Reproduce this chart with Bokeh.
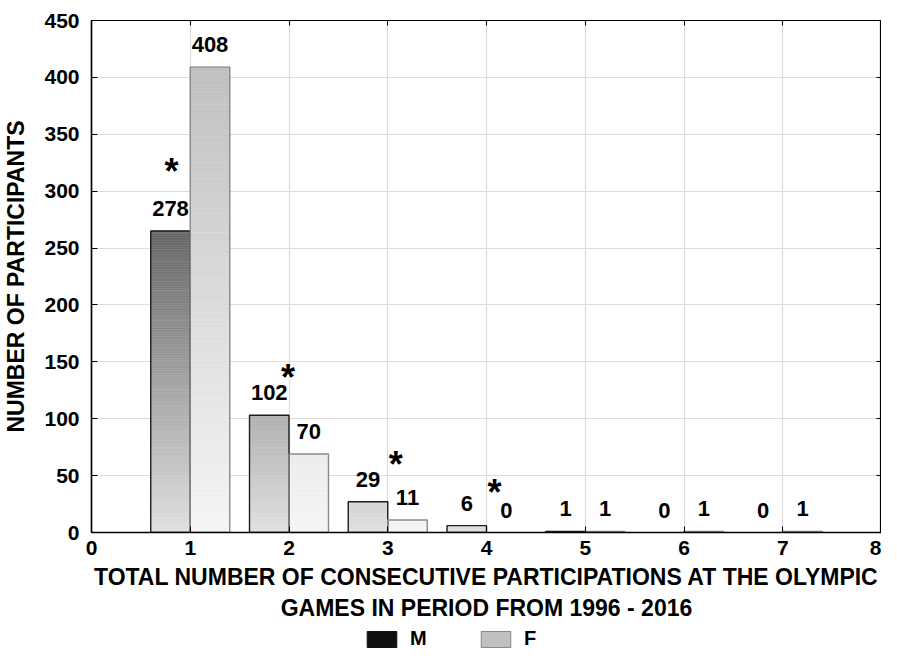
from bokeh.plotting import figure
from bokeh.layouts import column
from bokeh.models import Range1d, LinearAxis, Legend, LegendItem, FixedTicker, ColumnDataSource
from bokeh.core.properties import value
from bokeh.embed import file_html
from bokeh.resources import INLINE

# ---- data ----
categories = [1, 2, 3, 4, 5, 6, 7]
m_heights = [265, 103, 27, 6, 1, 0, 0]
f_heights = [409, 69, 11, 0, 1, 1, 1]
m_labels = ["278", "102", "29", "6", "1", "0", "0"]
f_labels = ["408", "70", "11", "0", "1", "1", "1"]
star_x = [0.81, 1.99, 3.08, 4.08]
star_y = [327, 146, 69, 45]
y_ticks = [0, 50, 100, 150, 200, 250, 300, 350, 400, 450]
x_ticks = [0, 1, 2, 3, 4, 5, 6, 7, 8]
series_names = ["M", "F"]

FONT = "Liberation Sans"
BAR_W = 0.4

p = figure(width=881, height=624, x_range=Range1d(0, 8), y_range=Range1d(0, 450),
           output_backend="svg", toolbar_location=None,
           min_border_left=89, min_border_right=0, min_border_top=20, min_border_bottom=92)
p.background_fill_color = "white"
p.border_fill_color = "white"
p.outline_line_color = "black"
p.outline_line_width = 1.2

# grids
p.xgrid.ticker = FixedTicker(ticks=x_ticks)
p.ygrid.ticker = FixedTicker(ticks=y_ticks)
for g in (p.xgrid, p.ygrid):
    g.grid_line_color = "#dcdcdc"
    g.grid_line_width = 1.2


def grey(v):
    v = int(max(0, min(255, round(v))))
    return "#%02x%02x%02x" % (v, v, v)


def m_col(y):
    return grey(224 - 122 * y / 265.0)


def f_col(y):
    return grey(245 - 53 * y / 408.0)


# gradient bars built from thin slices
STEP = 1.5
sl = dict(left=[], right=[], bottom=[], top=[], color=[])
outl_m = dict(left=[], right=[], bottom=[], top=[])
outl_f = dict(left=[], right=[], bottom=[], top=[])
for c, hm, hf in zip(categories, m_heights, f_heights):
    for (h, l, r, fn, ol) in ((hm, c - BAR_W, c, m_col, outl_m), (hf, c, c + BAR_W, f_col, outl_f)):
        if h <= 0:
            continue
        y0 = 0.0
        while y0 < h:
            y1 = min(h, y0 + STEP)
            sl["left"].append(l); sl["right"].append(r)
            sl["bottom"].append(y0); sl["top"].append(y1)
            sl["color"].append(fn((y0 + y1) / 2))
            y0 = y1
        ol["left"].append(l); ol["right"].append(r); ol["bottom"].append(0); ol["top"].append(h)

p.quad(left="left", right="right", bottom="bottom", top="top", fill_color="color",
       line_color="color", line_width=0.5, source=ColumnDataSource(sl))
p.quad(left="left", right="right", bottom="bottom", top="top", fill_color=None,
       line_color="#1e1e1e", line_width=1.4, source=ColumnDataSource(outl_m))
p.quad(left="left", right="right", bottom="bottom", top="top", fill_color=None,
       line_color="#8a8a8a", line_width=1.4, source=ColumnDataSource(outl_f))

# value labels
lab = dict(x=[c - BAR_W / 2 for c in categories] + [c + BAR_W / 2 for c in categories],
           y=m_heights + f_heights, t=m_labels + f_labels)
p.text(x="x", y="y", text="t", source=ColumnDataSource(lab), text_align="center",
       text_baseline="bottom", y_offset=-15, text_font=value(FONT), text_font_style="bold",
       text_font_size="22px", text_color="black")

# asterisks
p.text(x=star_x, y=star_y, text=["*"] * len(star_x), text_align="center",
       text_baseline="alphabetic", y_offset=11, text_font=value(FONT), text_font_style="bold",
       text_font_size="36px", text_color="black")

# axes
for ax in (p.xaxis[0], p.yaxis[0]):
    ax.major_tick_in = 6
    ax.major_tick_out = 0
    ax.minor_tick_line_color = None
    ax.axis_line_color = "black"
    ax.axis_line_width = 1.5
    ax.major_tick_line_color = "black"
    ax.major_label_text_font = FONT
    ax.major_label_text_font_style = "bold"
    ax.major_label_text_font_size = "21px"
    ax.major_label_text_color = "black"
    ax.axis_label_text_font = FONT
    ax.axis_label_text_font_style = "bold"
    ax.axis_label_text_font_size = "23px"
    ax.axis_label_text_color = "black"

p.xaxis[0].ticker = FixedTicker(ticks=x_ticks)
p.yaxis[0].ticker = FixedTicker(ticks=y_ticks)
p.xaxis[0].axis_label = "TOTAL NUMBER OF CONSECUTIVE PARTICIPATIONS AT THE OLYMPIC\nGAMES IN PERIOD FROM 1996 - 2016"
p.yaxis[0].axis_label = "NUMBER OF PARTICIPANTS"
p.xaxis[0].major_label_standoff = 8
p.xaxis[0].axis_label_standoff = 6
p.yaxis[0].major_label_standoff = 12
p.yaxis[0].axis_label_standoff = 12

for loc, tk in (("above", x_ticks), ("right", y_ticks)):
    ax = LinearAxis(ticker=FixedTicker(ticks=tk), major_tick_in=5, major_tick_out=0,
                    minor_tick_line_color=None, axis_line_color="black",
                    major_label_text_font_size="1px", major_label_text_color=None,
                    major_label_standoff=0)
    p.add_layout(ax, loc)

# ---- legend strip below the chart ----
lg = figure(width=881, height=26, x_range=Range1d(0, 881), y_range=Range1d(0, 26),
            output_backend="svg", toolbar_location=None,
            min_border_left=0, min_border_right=0, min_border_top=0, min_border_bottom=0)
lg.axis.visible = False
lg.xgrid.visible = False
lg.ygrid.visible = False
lg.outline_line_color = None
lg.background_fill_color = "white"
lg.border_fill_color = "white"
r_m = lg.quad(left=[-10], right=[-9], bottom=[-10], top=[-9], fill_color="#111111", line_color="#111111")
r_f = lg.quad(left=[-10], right=[-9], bottom=[-10], top=[-9], fill_color="#c0c0c0", line_color="#8a8a8a")
legend = Legend(items=[LegendItem(label=series_names[0], renderers=[r_m]),
                       LegendItem(label=series_names[1], renderers=[r_f])],
                orientation="horizontal", location=(272, 0),
                glyph_width=37, glyph_height=20, label_standoff=10, spacing=47,
                padding=0, margin=0, border_line_color=None, background_fill_alpha=0,
                label_text_font=FONT, label_text_font_style="bold", label_text_font_size="20px",
                label_text_color="black", label_height=20, label_width=20)
lg.add_layout(legend, "center")

layout = column(p, lg, spacing=0)
open("out.html", "w").write(file_html(layout, INLINE))
